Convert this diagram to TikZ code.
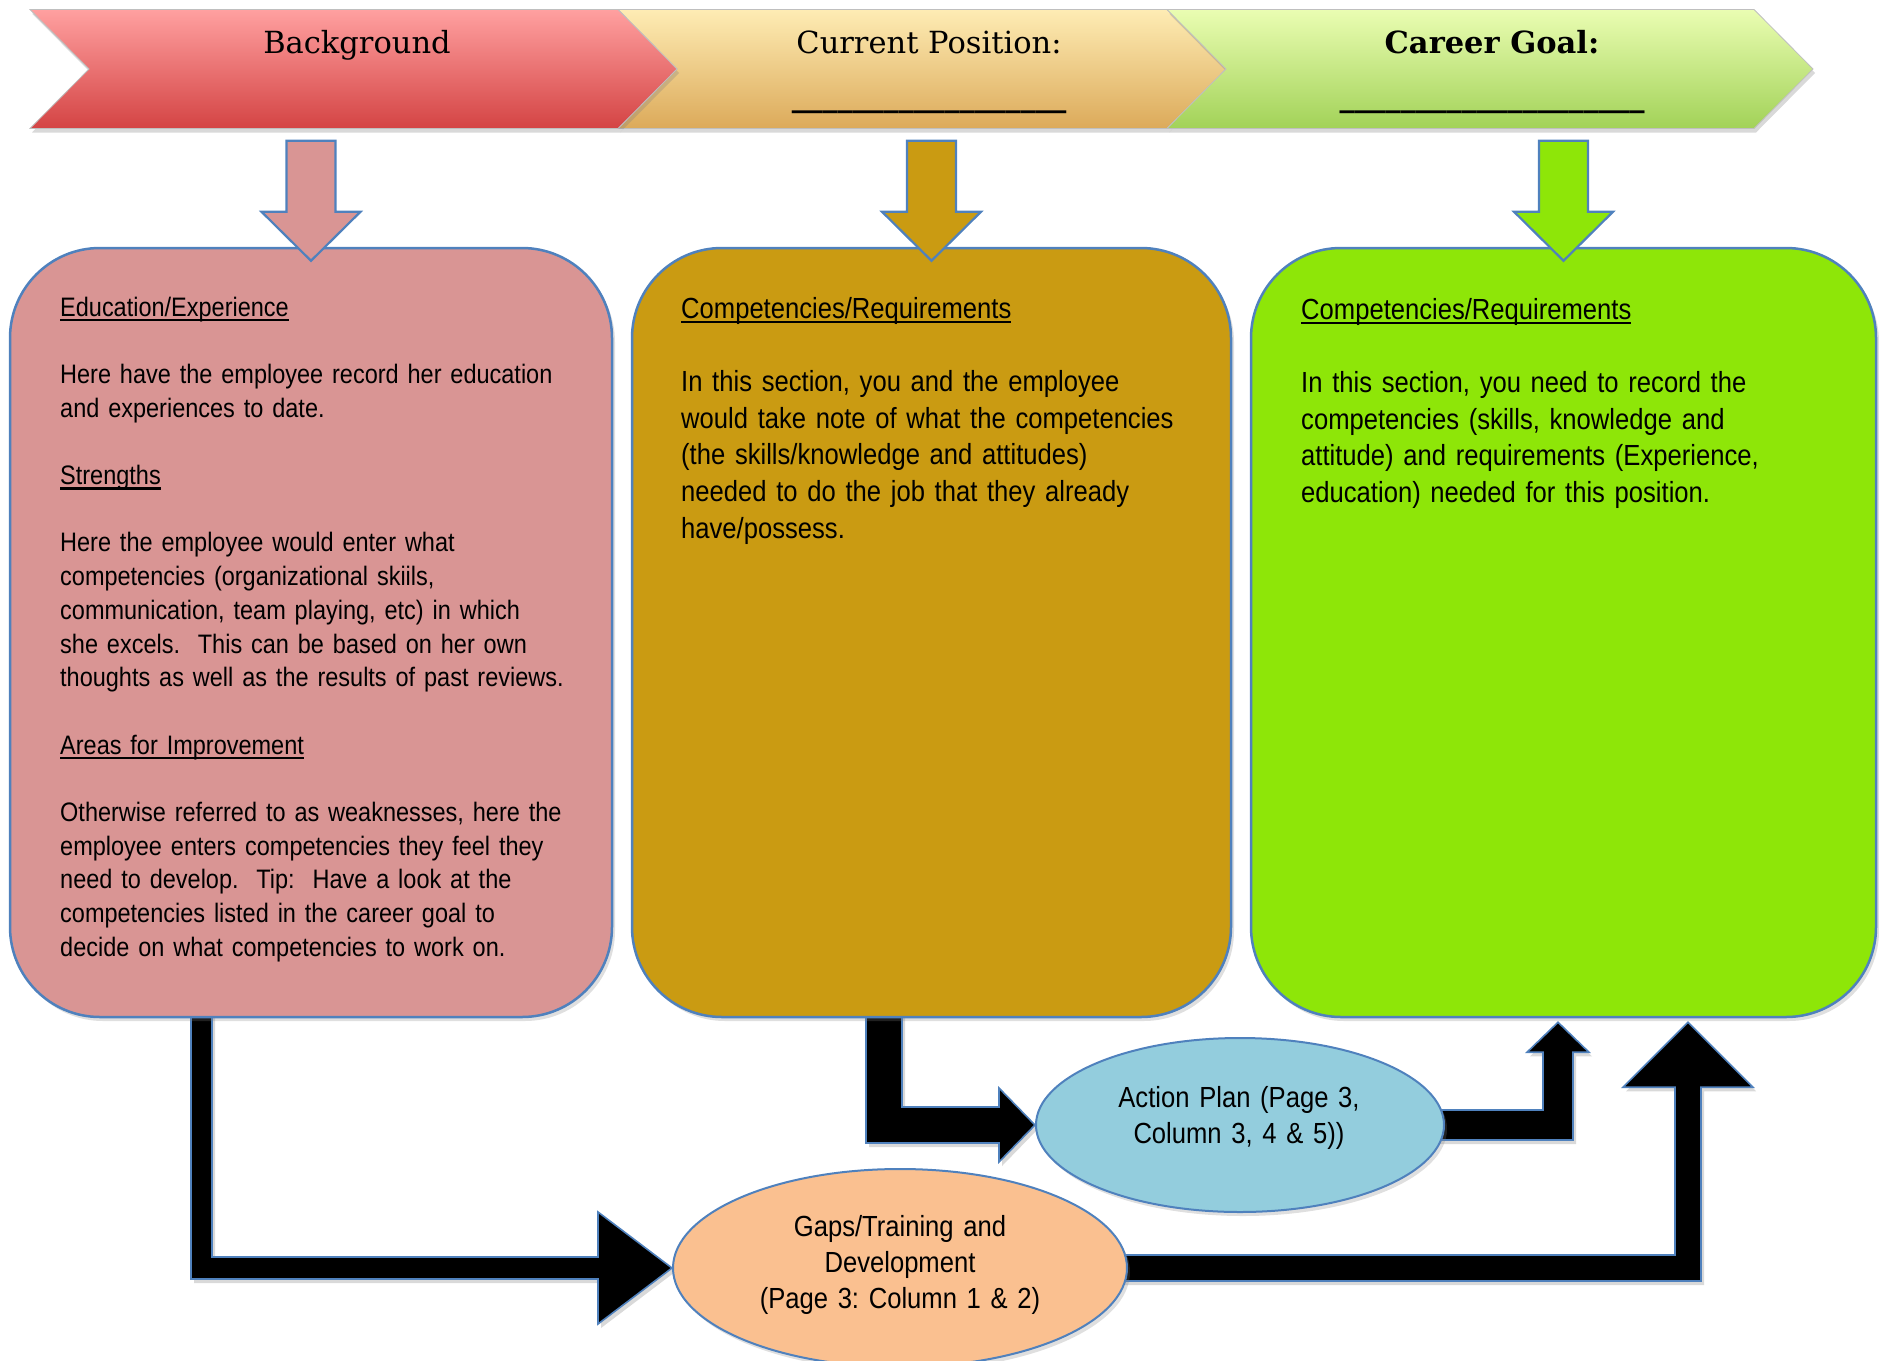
\documentclass[tikz,border=0pt]{standalone}
\usepackage{fontspec}
\newfontfamily\bodyfont[FakeStretch=0.88]{Liberation Sans}
\newfontfamily\titlefont{DejaVu Serif}
\usetikzlibrary{calc,shapes.geometric,shadows}
\pgfdeclarelayer{bg}
\pgfsetlayers{bg,main}
\frenchspacing
\definecolor{edgeblue}{RGB}{79,129,189}
\definecolor{redfill}{RGB}{217,149,148}
\definecolor{goldfill}{RGB}{202,155,18}
\definecolor{greenfill}{RGB}{142,230,8}
\definecolor{actionfill}{RGB}{147,205,221}
\definecolor{gapsfill}{RGB}{250,192,144}
\definecolor{redtop}{RGB}{255,160,160}
\definecolor{redmid}{RGB}{244,118,118}
\definecolor{redbot}{RGB}{212,68,68}
\definecolor{ortop}{RGB}{254,236,180}
\definecolor{ormid}{RGB}{249,210,140}
\definecolor{orbot}{RGB}{220,170,90}
\definecolor{grtop}{RGB}{234,253,178}
\definecolor{grmid}{RGB}{210,241,140}
\definecolor{grbot}{RGB}{162,210,88}
\newcommand{\myul}[1]{\leavevmode\setbox0\hbox{#1}\rlap{\rule[-5.2pt]{\wd0}{2.3pt}}\box0}
\begin{document}
\begin{tikzpicture}[x=1pt,y=-1pt,
  roundbox/.style={draw=edgeblue, line width=2.5pt, rounded corners=90pt, inner sep=0pt,
    minimum height=769pt, drop shadow={opacity=0.25,shadow xshift=3pt,shadow yshift=-4pt}},
  oval/.style={ellipse, draw=edgeblue, line width=2pt, inner sep=0pt,
    drop shadow={opacity=0.25,shadow xshift=3pt,shadow yshift=-4pt}},
  blk/.style={fill=black, draw=edgeblue, line width=1.6pt, line join=miter,
    drop shadow={opacity=0.3,shadow xshift=3pt,shadow yshift=-4pt}},
  downarr/.style={draw=edgeblue, line width=2.2pt, line join=miter},
  chev/.style={draw=black!25, line width=0.8pt, line join=miter,
    drop shadow={opacity=0.3,shadow xshift=2pt,shadow yshift=-4pt}},
  smalltxt/.style={anchor=base west, inner sep=0pt, text width=700pt, align=left,
    font=\bodyfont\fontsize{26.7pt}{33.7pt}\selectfont},
  bigtxt/.style={anchor=base west, inner sep=0pt, text width=700pt, align=left,
    font=\bodyfont\fontsize{29.1pt}{36.7pt}\selectfont},
  ovaltxt/.style={anchor=base, inner sep=0pt, text width=420pt, align=center,
    font=\bodyfont\fontsize{29.1pt}{36pt}\selectfont},
  titletxt/.style={anchor=base, inner sep=0pt, font=\titlefont\fontsize{30.5pt}{36pt}\selectfont}
]
\useasboundingbox (0,0) rectangle (1879,1360);
\clip (0,0) rectangle (1879,1360);

% ---- header chevrons
\shade[chev, top color=ortop, middle color=ormid, bottom color=orbot]
  (618,9.5) -- (1167,9.5) -- (1226,69) -- (1167,128.5) -- (618,128.5) -- (677,69) -- cycle;
\shade[chev, top color=grtop, middle color=grmid, bottom color=grbot]
  (1167,9.5) -- (1754,9.5) -- (1813,69) -- (1754,128.5) -- (1167,128.5) -- (1226,69) -- cycle;
\shade[chev, top color=redtop, middle color=redmid, bottom color=redbot]
  (30,9.5) -- (618,9.5) -- (677,69) -- (618,128.5) -- (30,128.5) -- (89,69) -- cycle;

\node[titletxt] (bgtitle) at (357,53) {Background};
\node[titletxt] (cptitle) at (929,53) {Current Position:};
\node[titletxt] (cpline) at (929,106) {\bfseries\_\_\_\_\_\_\_\_\_\_\_\_\_\_\_\_\_\_};
\node[titletxt] (cgtitle) at (1492,53) {\bfseries Career Goal:};
\node[titletxt] (cgline) at (1492,106) {\bfseries \_\_\_\_\_\_\_\_\_\_\_\_\_\_\_\_\_\_\_\_};

% ---- ovals (named first; drawn above the black arrows)
\node[oval, fill=actionfill, minimum width=408pt, minimum height=174pt] (action) at (1240,1125) {};
\node[oval, fill=gapsfill, minimum width=454pt, minimum height=198pt] (gaps) at (900,1268) {};

% ---- boxes
\node[roundbox, fill=redfill, minimum width=602pt] (redbox) at (311,632.5) {};
\node[roundbox, fill=goldfill, minimum width=599pt] (goldbox) at (931.5,632.5) {};
\node[roundbox, fill=greenfill, minimum width=625pt] (greenbox) at (1563.5,632.5) {};

% ---- black block connectors (behind)
\coordinate (x1) at (201.5,0);
\coordinate (x2) at (884,0);
\coordinate (x3) at (1558,0);
\coordinate (x4) at (1688,0);
\coordinate (a1s) at (redbox.south -| x1);
\coordinate (a2s) at (goldbox.south -| x2);
\coordinate (a3t) at ($(greenbox.south -| x3)+(0,4)$);
\coordinate (a4t) at ($(greenbox.south -| x4)+(0,4)$);
\begin{pgfonlayer}{bg}
\path[blk] ($(a1s)+(-10.5,-12)$) |- ($(gaps.west)+(-74,11)$) -- ++(0,45) -- (gaps.west)
  -- ++(-74,-56) -- ++(0,45) -| ($(a1s)+(10.5,-12)$) -- cycle;
\path[blk] ($(a2s)+(-18,-12)$) |- ($(action.west)+(-36,18)$) -- ++(0,19) -- (action.west)
  -- ++(-36,-37) -- ++(0,19) -| ($(a2s)+(18,-12)$) -- cycle;
\path[blk] ($(action.east)+(-20,-15)$) -| ($(a3t)+(-15,30)$) -- ++(-16,0) -- (a3t)
  -- ++(31,30) -- ++(-16,0) |- ($(action.east)+(-20,15)$) -- cycle;
\path[blk] ($(gaps.east)+(-20,-13)$) -| ($(a4t)+(-13,65)$) -- ++(-52,0) -- (a4t)
  -- ++(65,65) -- ++(-52,0) |- ($(gaps.east)+(-20,13)$) -- cycle;
\end{pgfonlayer}

% ---- down arrows from the header into the boxes
\coordinate (rt) at ($(redbox.north)+(0,14)$);
\coordinate (gt) at ($(goldbox.north)+(0,14)$);
\coordinate (ct) at ($(greenbox.north)+(0,14)$);
\draw[downarr, fill=redfill] ($(rt)+(-24.5,-120)$) -- ++(49,0) -- ++(0,71) -- ++(25,0) -- (rt)
  -- ++(-49.5,-49) -- ++(25,0) -- cycle;
\draw[downarr, fill=goldfill] ($(gt)+(-24.5,-120)$) -- ++(49,0) -- ++(0,71) -- ++(25,0) -- (gt)
  -- ++(-49.5,-49) -- ++(25,0) -- cycle;
\draw[downarr, fill=greenfill] ($(ct)+(-24.5,-120)$) -- ++(49,0) -- ++(0,71) -- ++(25,0) -- (ct)
  -- ++(-49.5,-49) -- ++(25,0) -- cycle;

% ---- box texts
\node[smalltxt] (redtext) at (60,316) {\myul{Education/Experience}\\[\baselineskip]
Here have the employee record her education\\
and experiences to date.\\[\baselineskip]
\myul{Strengths}\\[\baselineskip]
Here the employee would enter what\\
competencies (organizational skiils,\\
communication, team playing, etc) in which\\
she excels.\ \ This can be based on her own\\
thoughts as well as the results of past reviews.\\[\baselineskip]
\myul{Areas for Improvement}\\[\baselineskip]
Otherwise referred to as weaknesses, here the\\
employee enters competencies they feel they\\
need to develop.\ \ Tip:\ \ Have a look at the\\
competencies listed in the career goal to\\
decide on what competencies to work on.};

\node[bigtxt] (goldtext) at (681,318) {\myul{Competencies/Requirements}\\[\baselineskip]
In this section, you and the employee\\
would take note of what the competencies\\
(the skills/knowledge and attitudes)\\
needed to do the job that they already\\
have/possess.};

\node[bigtxt] (greentext) at (1301,319) {\myul{Competencies/Requirements}\\[\baselineskip]
In this section, you need to record the\\
competencies (skills, knowledge and\\
attitude) and requirements (Experience,\\
education) needed for this position.};

\node[ovaltxt] (actiontext) at (1239,1107) {Action Plan (Page 3,\\Column 3, 4 \& 5))};
\node[ovaltxt] (gapstext) at (900,1236) {Gaps/Training and\\Development\\(Page 3: Column 1 \& 2)};
\end{tikzpicture}
\end{document}
